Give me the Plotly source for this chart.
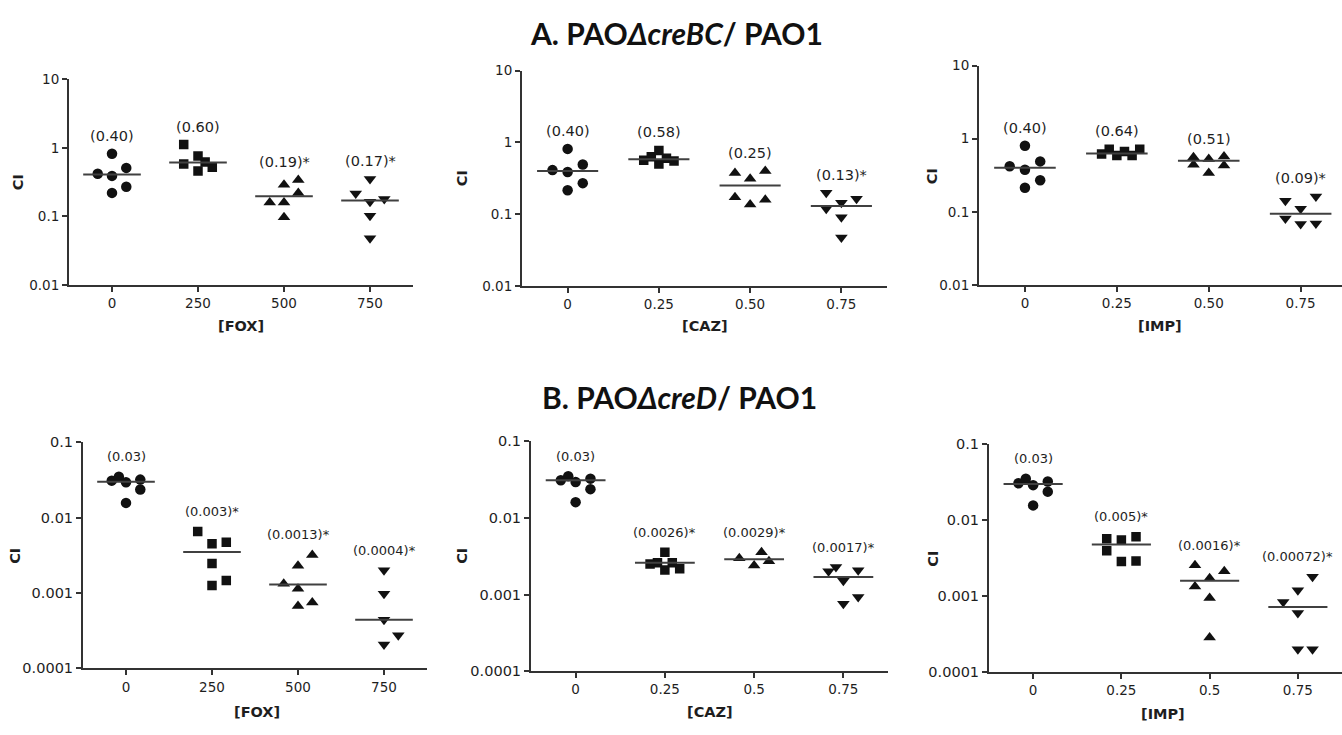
import numpy as np
import plotly.graph_objects as go

W, H = 1342, 735

# ---------------- data ----------------
symbols = ["circle", "square", "triangle-up", "triangle-down"]

# Panel A1: PAOΔcreBC / PAO1, FOX
A1_vals = [[0.82, 0.42, 0.39, 0.51, 0.27, 0.22],
           [1.12, 0.76, 0.58, 0.62, 0.46, 0.52],
           [0.29, 0.34, 0.22, 0.16, 0.16, 0.097],
           [0.215, 0.35, 0.164, 0.18, 0.102, 0.048]]
A1_jit = [[0, -2, 0, 2, 2, 0], [-2, 0, -2, 1, 0, 2], [0, 2, 2, -2, 0, 0], [-2, 0, 0, 2, 0, 0]]
A1_med = [0.41, 0.61, 0.197, 0.17]
A1_lab = ["(0.40)", "(0.60)", "(0.19)*", "(0.17)*"]
A1_ticks = ["0", "250", "500", "750"]

# Panel A2: CAZ
A2_vals = [[0.81, 0.41, 0.385, 0.49, 0.27, 0.215],
           [0.565, 0.63, 0.77, 0.60, 0.55, 0.50],
           [0.373, 0.31, 0.40, 0.171, 0.136, 0.158],
           [0.198, 0.119, 0.144, 0.163, 0.09, 0.047]]
A2_jit = [[0, -2, 0, 2, 2, 0], [-2, -1, 0, 1, 2, 0], [-2, 0, 2, -2, 0, 2], [-2, -2, 0, 2, 0, 0]]
A2_med = [0.40, 0.58, 0.25, 0.13]
A2_lab = ["(0.40)", "(0.58)", "(0.25)", "(0.13)*"]
A2_ticks = ["0", "0.25", "0.50", "0.75"]

# Panel A3: IMP
A3_vals = [[0.80, 0.42, 0.377, 0.49, 0.27, 0.214],
           [0.62, 0.72, 0.59, 0.67, 0.59, 0.72],
           [0.557, 0.53, 0.57, 0.44, 0.34, 0.43],
           [0.142, 0.11, 0.162, 0.081, 0.068, 0.069]]
A3_jit = [[0, -2, 0, 2, 2, 0], [-2, -1, 0, 1, 2, 3], [-2, 0, 2, -2, 0, 2], [-2, 0, 2, -2, 0, 2]]
A3_med = [0.40, 0.63, 0.50, 0.094]
A3_lab = ["(0.40)", "(0.64)", "(0.51)", "(0.09)*"]
A3_ticks = ["0", "0.25", "0.50", "0.75"]

# Panel B1: PAOΔcreD / PAO1, FOX
B1_vals = [[0.031, 0.035, 0.0295, 0.032, 0.0237, 0.0157],
           [0.00656, 0.0045, 0.0047, 0.00246, 0.00126, 0.00146],
           [0.0032, 0.0023, 0.00133, 0.00114, 0.00067, 0.00075],
           [0.0020, 0.00098, 0.00044, 0.000275, 0.000207]]
B1_jit = [[-2, -1, 0, 2, 2, 0], [-2, 0, 2, 0, 0, 2], [2, 0, -2, 0, 0, 2], [0, 0, 0, 2, 0]]
B1_med = [0.030, 0.0035, 0.0013, 0.00044]
B1_lab = ["(0.03)", "(0.003)*", "(0.0013)*", "(0.0004)*"]
B1_ticks = ["0", "250", "500", "750"]

# Panel B2: CAZ
B2_vals = [[0.031, 0.035, 0.0295, 0.0326, 0.0238, 0.0161],
           [0.00356, 0.0026, 0.0026, 0.00218, 0.0021, 0.0025],
           [0.00298, 0.00356, 0.0024, 0.00273],
           [0.00202, 0.00229, 0.00208, 0.00152, 0.00093, 0.00076]]
B2_jit = [[-2, -1, 0, 2, 2, 0], [0, -1, 1, 2, 0, -2], [-2, 1, 0, 2], [-2, -1, 2, 0, 2, 0]]
B2_med = [0.031, 0.0026, 0.0029, 0.0017]
B2_lab = ["(0.03)", "(0.0026)*", "(0.0029)*", "(0.0017)*"]
B2_ticks = ["0", "0.25", "0.5", "0.75"]

# Panel B3: IMP
B3_vals = [[0.0307, 0.0352, 0.029, 0.0323, 0.0238, 0.0157],
           [0.0057, 0.0055, 0.00605, 0.00396, 0.00286, 0.0029],
           [0.00255, 0.00213, 0.00172, 0.00134, 0.00095, 0.000286],
           [0.0018, 0.0012, 0.00084, 0.0006, 0.0002, 0.0002]]
B3_jit = [[-2, -1, 0, 2, 2, 0], [-2, 0, 2, -2, 0, 2], [-2, 2, 0, -2, 0, 0], [2, 0, -2, 0, 0, 2]]
B3_med = [0.030, 0.0048, 0.0016, 0.00072]
B3_lab = ["(0.03)", "(0.005)*", "(0.0016)*", "(0.00072)*"]
B3_ticks = ["0", "0.25", "0.5", "0.75"]

x_titles = ["[FOX]", "[CAZ]", "[IMP]", "[FOX]", "[CAZ]", "[IMP]"]
top_yticks = [0.01, 0.1, 1, 10]
top_yticktext = ["0.01", "0.1", "1", "10"]
bot_yticks = [0.0001, 0.001, 0.01, 0.1]
bot_yticktext = ["0.0001", "0.001", "0.01", "0.1"]

# ---------------- layout geometry (pixels) ----------------
# (x_left, x_right, y_top, y_bottom, x_range, y_range_log)
geom = [
    (69, 413, 73, 283, [-0.5, 3.5], [-2, 1]),
    (522, 887, 64, 284, [-0.5, 3.5], [-2, 1]),
    (979, 1342, 59, 283, [-0.5, 3.45], [-2, 1]),
    (83, 427, 444, 675, [-0.5, 3.5], [-4, -1]),
    (531, 888, 443, 678, [-0.5, 3.5], [-4, -1]),
    (989, 1342, 446, 679, [-0.5, 3.5], [-4, -1]),
]
panels = [
    (A1_vals, A1_jit, A1_med, A1_lab, A1_ticks),
    (A2_vals, A2_jit, A2_med, A2_lab, A2_ticks),
    (A3_vals, A3_jit, A3_med, A3_lab, A3_ticks),
    (B1_vals, B1_jit, B1_med, B1_lab, B1_ticks),
    (B2_vals, B2_jit, B2_med, B2_lab, B2_ticks),
    (B3_vals, B3_jit, B3_med, B3_lab, B3_ticks),
]
ylab_pos = [(18, 178), (462, 174), (932, 172), (15, 560), (462, 560), (933, 563)]
xlab_pos = [(241, 325), (705, 325), (1160, 325), (257, 720), (710, 720), (1163, 722)]

JIT = 0.083
HALF = 0.335
INK = "#111111"
AXC = "#333333"
TXT = "#1e1e1e"
FONT = "DejaVu Sans"

def px(x):
    return x / W

def py(y):
    return 1 - y / H

fig = go.Figure()
annotations = []
layout_axes = {}

for k, ((vals, jit, med, lab, ticks), g) in enumerate(zip(panels, geom)):
    xl, xr, yt, yb, xrng, yrng = g
    n = k + 1
    xa = "x" if n == 1 else f"x{n}"
    ya = "y" if n == 1 else f"y{n}"
    top = k < 3
    for i in range(4):
        xs = [i + j * JIT for j in jit[i]]
        size = {"circle": 10.5, "square": 9.5}.get(symbols[i], 11)
        fig.add_trace(go.Scatter(
            x=xs, y=vals[i], mode="markers", xaxis=xa, yaxis=ya,
            marker=dict(symbol=symbols[i], size=size, color=INK, line=dict(width=0)),
            showlegend=False, hoverinfo="y"))
        fig.add_trace(go.Scatter(
            x=[i - HALF, i + HALF], y=[med[i], med[i]], mode="lines",
            xaxis=xa, yaxis=ya, line=dict(color="#404040", width=2),
            showlegend=False, hoverinfo="skip"))
        annotations.append(dict(
            x=i, y=np.log10(max(vals[i])), xref=xa, yref=ya, text=lab[i],
            showarrow=False, yshift=18 if top else 20, yanchor="middle",
            font=dict(family=FONT, size=14.5 if top else 13, color=TXT)))
    xkey = "xaxis" if n == 1 else f"xaxis{n}"
    ykey = "yaxis" if n == 1 else f"yaxis{n}"
    layout_axes[xkey] = dict(
        domain=[px(xl), min(px(xr), 1)], anchor=ya, range=xrng,
        tickvals=[0, 1, 2, 3], ticktext=ticks, showgrid=False, zeroline=False,
        showline=True, linecolor=AXC, linewidth=2, ticks="outside",
        ticklen=5, tickwidth=2, tickcolor=AXC,
        tickfont=dict(family=FONT, size=13.5, color=TXT))
    layout_axes[ykey] = dict(
        domain=[py(yb), py(yt)], anchor=xa, type="log", range=yrng,
        tickvals=top_yticks if top else bot_yticks,
        ticktext=top_yticktext if top else bot_yticktext,
        showgrid=False, zeroline=False, showline=True, linecolor=AXC,
        linewidth=2, ticks="outside", ticklen=5, tickwidth=2, tickcolor=AXC,
        tickfont=dict(family=FONT, size=13.5 if top else 14.5, color=TXT))
    # x-axis title
    tx, ty = xlab_pos[k]
    annotations.append(dict(
        x=px(tx), y=py(ty), xref="paper", yref="paper",
        text=f"<b>{x_titles[k]}</b>", showarrow=False,
        xanchor="center", yanchor="middle",
        font=dict(family=FONT, size=14.5, color=TXT)))
    # y-axis title
    lx, ly = ylab_pos[k]
    annotations.append(dict(
        x=px(lx), y=py(ly), xref="paper", yref="paper", text="<b>CI</b>",
        showarrow=False, textangle=-90, xanchor="center", yanchor="middle",
        font=dict(family=FONT, size=14.5, color=TXT)))

annotations.append(dict(
    x=px(676), y=py(26), xref="paper", yref="paper",
    text="<b>A. PAO<i>ΔcreBC</i>/ PAO1</b>", showarrow=False,
    xanchor="center", yanchor="middle",
    font=dict(family="Lato", size=30, color="#111111")))
annotations.append(dict(
    x=px(679), y=py(398), xref="paper", yref="paper",
    text="<b>B. PAO<i>ΔcreD</i>/ PAO1</b>", showarrow=False,
    xanchor="center", yanchor="middle",
    font=dict(family="Lato", size=30, color="#111111")))

fig.update_layout(
    width=W, height=H, margin=dict(l=0, r=0, t=0, b=0),
    paper_bgcolor="white", plot_bgcolor="white",
    annotations=annotations, showlegend=False, **layout_axes)

fig.write_html("out.html")
